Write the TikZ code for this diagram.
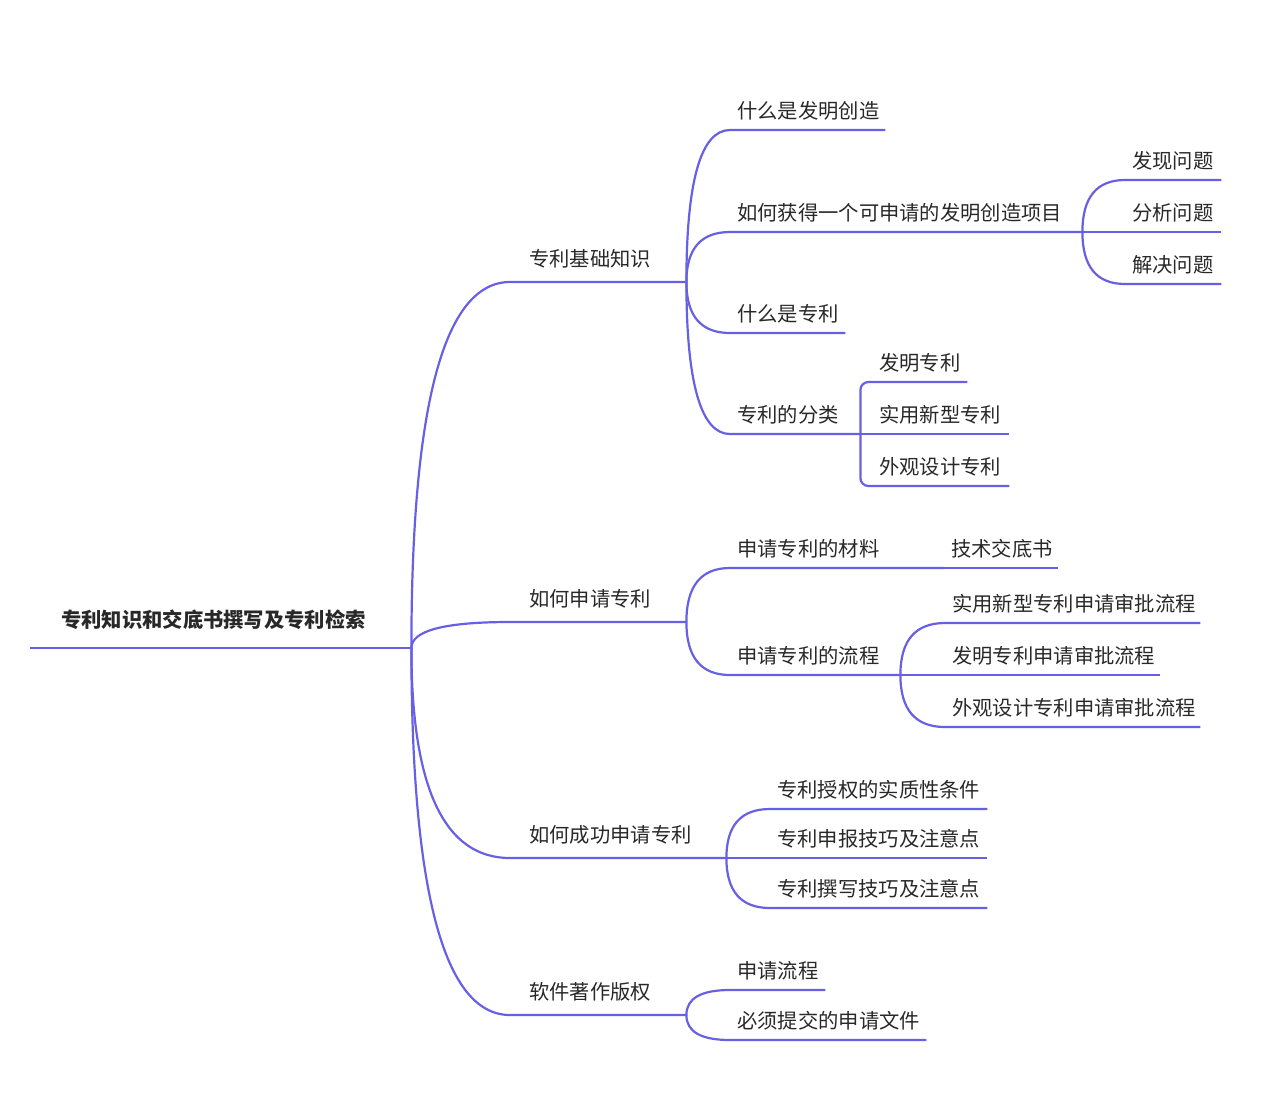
\documentclass[tikz,border=0pt]{standalone}
\usepackage{fontspec}
\setmainfont{Noto Sans CJK SC}
\usepackage{tikz}
\usetikzlibrary{graphs, calc}

\definecolor{branchline}{RGB}{104,96,228}
\definecolor{ink}{RGB}{40,40,40}

\tikzset{
    topic/.style={anchor=south west, inner xsep=7pt, inner ysep=11pt,
        text height=15pt, text depth=0pt, align=left, text=ink,
        font=\fontsize{20.3}{24}\selectfont, text width=#1},
    major/.style={topic=#1, inner xsep=19pt, inner ysep=15.5pt},
    rootbox/.style={topic=#1, inner xsep=31pt, inner ysep=20.5pt,
        font=\bfseries\fontsize{20.3}{24}\selectfont},
    branch/.style={draw=branchline, line width=2.2pt,
        to path={(\tikztostart.south east)
            .. controls ($(\tikztostart.south east)!2/3!(\tikztostart.south east |- \tikztotarget.south west)$)
            and ($(\tikztotarget.south west)!2/3!(\tikztostart.south east |- \tikztotarget.south west)$)
            .. (\tikztotarget.south west) -- (\tikztotarget.south east)}},
    bracket/.style={draw=branchline, line width=2.2pt, rounded corners=8pt,
        to path={(\tikztostart.south east)
            -- (\tikztostart.south east |- \tikztotarget.south west)
            -- (\tikztotarget.south east)}},
}

\begin{document}
\begin{tikzpicture}[x=1pt, y=-1pt]
    \useasboundingbox (0,0) rectangle (1273,1093);

    \node[rootbox=319]  (root)       at (30,648)   {专利知识和交底书撰写及专利检索};

    \node[major=138]    (basic)      at (510,282)  {专利基础知识};
    \node[major=138]    (apply)      at (510,622)  {如何申请专利};
    \node[major=178]    (success)    at (510,858)  {如何成功申请专利};
    \node[major=138]    (soft)       at (510,1015) {软件著作版权};

    \node[topic=141]    (invent)     at (730,130)  {什么是发明创造};
    \node[topic=338]    (project)    at (730,232)  {如何获得一个可申请的发明创造项目};
    \node[topic=101]    (patent)     at (730,333)  {什么是专利};
    \node[topic=116]    (kinds)      at (730,434)  {专利的分类};
    \node[topic=82]     (find)       at (1125,180) {发现问题};
    \node[topic=82]     (analyse)    at (1125,232) {分析问题};
    \node[topic=82]     (solve)      at (1125,284) {解决问题};
    \node[topic=81]     (invpat)     at (872,382)  {发明专利};
    \node[topic=123]    (utility)    at (872,434)  {实用新型专利};
    \node[topic=123]    (design)     at (872,486)  {外观设计专利};

    \node[topic=200]    (material)   at (730,568)  {申请专利的材料};
    \node[topic=100]    (disclosure) at (944,568)  {技术交底书};
    \node[topic=156]    (process)    at (730,675)  {申请专利的流程};
    \node[topic=241]    (utilflow)   at (945,623)  {实用新型专利申请审批流程};
    \node[topic=201]    (invflow)    at (945,675)  {发明专利申请审批流程};
    \node[topic=241]    (designflow) at (945,727)  {外观设计专利申请审批流程};

    \node[topic=203]    (grant)      at (770,809)  {专利授权的实质性条件};
    \node[topic=203]    (report)     at (770,858)  {专利申报技巧及注意点};
    \node[topic=203]    (write)      at (770,908)  {专利撰写技巧及注意点};

    \node[topic=81]     (flow)       at (730,990)  {申请流程};
    \node[topic=182]    (files)      at (730,1040) {必须提交的申请文件};

    \draw[branchline, line width=2.2pt] (root.south west) -- (root.south east);

    \graph[edges=branch]{
    (root) -- {(basic), (apply), (success), (soft)};
    (basic) -- {(invent), (project), (patent), (kinds)};
    (project) -- {(find), (analyse), (solve)};
    (kinds) --[bracket] (invpat);
    (kinds) -- (utility);
    (kinds) --[bracket] (design);
    (apply) -- {(material), (process)};
    (material) -- (disclosure);
    (process) -- {(utilflow), (invflow), (designflow)};
    (success) -- {(grant), (report), (write)};
    (soft) -- {(flow), (files)};
    };
\end{tikzpicture}
\end{document}
